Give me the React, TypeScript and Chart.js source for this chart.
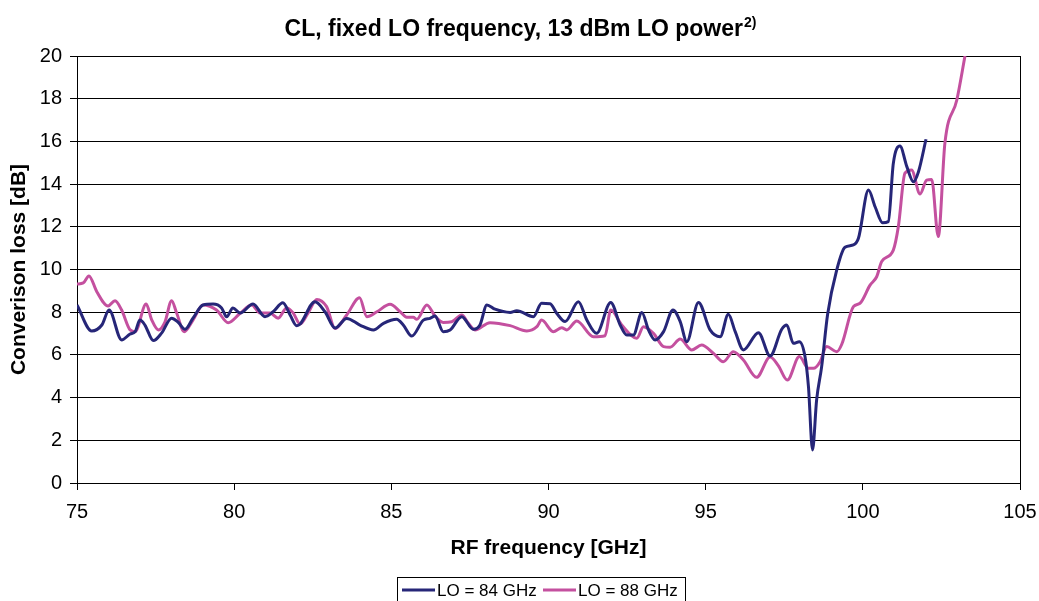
import React, { useEffect, useRef } from "react";
import { Chart, registerables } from "chart.js";

Chart.register(...registerables);

const FONT = '"Liberation Sans", Arial, Helvetica, sans-serif';

const TITLE = "CL, fixed LO frequency, 13 dBm LO power";
const TITLE_SUP = "2)";
const X_TITLE = "RF frequency [GHz]";
const Y_TITLE = "Converison loss [dB]";

const SERIES_NAMES = ["LO = 84 GHz", "LO = 88 GHz"];
const SERIES_COLORS = ["#262678", "#C4509F"];

const X_MIN = 75;
const X_MAX = 105;
const X_STEP = 5;
const Y_MIN = 0;
const Y_MAX = 20;
const Y_STEP = 2;

// LO = 84 GHz
const lo84Freq = [
  75.0, 75.47, 75.79, 76.02, 76.42, 76.69, 76.85, 77.0, 77.16, 77.43, 77.69, 78.01, 78.21, 78.44,
  78.69, 79.01, 79.33, 79.6, 79.76, 79.96, 80.19, 80.6, 80.98, 81.24, 81.55, 81.78, 81.99, 82.1,
  82.57, 82.89, 83.21, 83.58, 84.0, 84.43, 84.75, 85.17, 85.38, 85.65, 86.02, 86.23, 86.39, 86.65,
  86.87, 87.24, 87.61, 87.82, 88.04, 88.3, 88.78, 88.99, 89.52, 89.78, 90.05, 90.26, 90.53, 90.95,
  91.22, 91.53, 91.98, 92.28, 92.49, 92.7, 92.97, 93.18, 93.39, 93.66, 93.96, 94.19, 94.4, 94.77,
  95.14, 95.46, 95.72, 95.94, 96.2, 96.68, 97.05, 97.42, 97.58, 97.79, 97.98, 98.16, 98.27, 98.4,
  98.53, 98.69, 98.88, 99.17, 99.43, 99.7, 99.86, 100.18, 100.39, 100.63, 100.81, 100.97, 101.18,
  101.4, 101.61, 101.77, 102.01,
];
const lo84Loss = [
  8.34, 7.12, 7.4, 8.1, 6.7, 6.98, 7.09, 7.63, 7.4, 6.67, 7.02, 7.72, 7.54, 7.2,
  7.72, 8.34, 8.38, 8.2, 7.79, 8.2, 7.96, 8.38, 7.79, 8.02, 8.44, 7.87, 7.37, 7.45,
  8.49, 8.02, 7.26, 7.71, 7.4, 7.17, 7.48, 7.67, 7.4, 6.88, 7.63, 7.71, 7.82, 7.09,
  7.17, 7.79, 7.2, 7.4, 8.34, 8.14, 7.99, 8.07, 7.79, 8.42, 8.4, 7.95, 7.56, 8.49,
  7.63, 7.01, 8.46, 7.4, 6.93, 6.93, 7.99, 7.17, 6.7, 7.09, 8.1, 7.56, 6.62, 8.46,
  7.17, 6.85, 7.9, 7.09, 6.23, 7.04, 5.95, 7.2, 7.4, 6.54, 6.62, 5.92, 4.51, 1.55,
  3.89, 5.45, 7.9, 9.98, 11.04, 11.15, 11.46, 13.72, 12.94, 12.19, 12.24, 14.97, 15.78,
  14.82, 14.11, 14.58, 16.1,
];

// LO = 88 GHz
const lo88Freq = [
  75.0, 75.2, 75.38, 75.63, 75.99, 76.21, 76.42, 76.69, 76.85, 77.2, 77.38, 77.59, 77.8, 78.01,
  78.17, 78.41, 78.69, 79.01, 79.44, 79.81, 80.19, 80.56, 80.82, 81.14, 81.4, 81.67, 81.87, 82.1,
  82.35, 82.63, 82.94, 83.21, 83.58, 83.99, 84.22, 84.54, 84.96, 85.28, 85.49, 85.7, 85.81, 86.13,
  86.39, 86.65, 86.92, 87.24, 87.45, 87.66, 88.14, 88.78, 89.31, 89.63, 89.78, 90.15, 90.42, 90.58,
  90.9, 91.43, 91.8, 91.98, 92.33, 92.81, 93.02, 93.34, 93.66, 93.87, 94.19, 94.56, 94.87, 95.25,
  95.56, 95.88, 96.2, 96.62, 97.05, 97.31, 97.6, 97.98, 98.27, 98.43, 98.64, 98.85, 99.17, 99.33,
  99.7, 99.91, 100.23, 100.44, 100.6, 100.97, 101.13, 101.34, 101.55, 101.82, 102.03, 102.19,
  102.4, 102.61, 102.99, 103.25,
];
const lo88Loss = [
  9.32, 9.37, 9.7, 8.96, 8.29, 8.54, 8.1, 7.17, 7.09, 8.38, 7.63, 7.17, 7.55, 8.54,
  7.96, 7.09, 7.63, 8.34, 8.1, 7.51, 7.95, 8.34, 7.96, 7.96, 7.72, 8.2, 7.98, 7.45,
  7.96, 8.6, 8.26, 7.24, 7.87, 8.68, 7.79, 8.02, 8.37, 8.02, 7.76, 7.76, 7.67, 8.34,
  7.82, 7.52, 7.55, 7.87, 7.48, 7.17, 7.51, 7.37, 7.12, 7.32, 7.63, 7.09, 7.27, 7.17,
  7.59, 6.85, 6.9, 8.1, 7.4, 6.78, 7.32, 7.01, 6.39, 6.36, 6.74, 6.23, 6.46, 6.07,
  5.68, 6.15, 5.76, 4.95, 5.9, 5.5, 4.82, 5.92, 5.37, 5.37, 5.68, 6.39, 6.15, 6.5,
  8.26, 8.42, 9.27, 9.66, 10.37, 10.91, 12.01, 14.51, 14.66, 13.54, 14.19, 14.22,
  11.54, 15.91, 17.94, 20.0,
];

const toPoints = (xs: number[], ys: number[]) => xs.map((x, i) => ({ x, y: ys[i] }));

const decoPlugin = {
  id: "deco",
  afterDraw(chart: any) {
    const { ctx, chartArea } = chart;
    ctx.save();
    // right border of plot area
    ctx.strokeStyle = "#000";
    ctx.lineWidth = 1;
    const rx = Math.round(chartArea.right) + 0.5;
    ctx.beginPath();
    ctx.moveTo(rx, chartArea.top);
    ctx.lineTo(rx, chartArea.bottom);
    ctx.stroke();

    ctx.fillStyle = "#000";
    // chart title with superscript
    ctx.textAlign = "left";
    ctx.textBaseline = "alphabetic";
    ctx.font = `bold 23px ${FONT}`;
    const w1 = ctx.measureText(TITLE).width;
    ctx.font = `bold 14px ${FONT}`;
    const w2 = ctx.measureText(TITLE_SUP).width;
    const start = 520 - (w1 + w2) / 2;
    ctx.font = `bold 23px ${FONT}`;
    ctx.fillText(TITLE, start, 36);
    ctx.font = `bold 14px ${FONT}`;
    ctx.fillText(TITLE_SUP, start + w1 + 1, 27);

    // axis titles
    ctx.font = `bold 21px ${FONT}`;
    ctx.textAlign = "center";
    ctx.textBaseline = "middle";
    ctx.fillText(X_TITLE, (chartArea.left + chartArea.right) / 2, 548);
    ctx.save();
    ctx.translate(19, (chartArea.top + chartArea.bottom) / 2);
    ctx.rotate(-Math.PI / 2);
    ctx.fillText(Y_TITLE, 0, 0);
    ctx.restore();

    // legend
    ctx.strokeStyle = "#000";
    ctx.lineWidth = 1;
    ctx.strokeRect(397.5, 577.5, 288, 30);
    const items = [
      { x: 402, name: SERIES_NAMES[0], color: SERIES_COLORS[0] },
      { x: 543, name: SERIES_NAMES[1], color: SERIES_COLORS[1] },
    ];
    ctx.font = `17px ${FONT}`;
    ctx.textAlign = "left";
    ctx.textBaseline = "middle";
    for (const it of items) {
      ctx.strokeStyle = it.color;
      ctx.lineWidth = 3;
      ctx.beginPath();
      ctx.moveTo(it.x, 590);
      ctx.lineTo(it.x + 33, 590);
      ctx.stroke();
      ctx.fillStyle = "#000";
      ctx.fillText(it.name, it.x + 35, 591);
    }
    ctx.restore();
  },
};

export default function App() {
  const canvasRef = useRef<HTMLCanvasElement | null>(null);

  useEffect(() => {
    if (!canvasRef.current) return;
    const chart = new Chart(canvasRef.current, {
      type: "line",
      data: {
        datasets: [
          {
            label: SERIES_NAMES[0],
            data: toPoints(lo84Freq, lo84Loss),
            borderColor: SERIES_COLORS[0],
            borderWidth: 3,
            pointRadius: 0,
            cubicInterpolationMode: "monotone",
            fill: false,
          },
          {
            label: SERIES_NAMES[1],
            data: toPoints(lo88Freq, lo88Loss),
            borderColor: SERIES_COLORS[1],
            borderWidth: 3,
            pointRadius: 0,
            cubicInterpolationMode: "monotone",
            fill: false,
          },
        ],
      },
      options: {
        responsive: false,
        animation: false,
        devicePixelRatio: 1,
        layout: { padding: { top: 56, right: 19, left: 0, bottom: 0 } },
        plugins: {
          legend: { display: false },
          title: { display: false },
          tooltip: { enabled: false },
        },
        scales: {
          x: {
            type: "linear",
            min: X_MIN,
            max: X_MAX,
            ticks: {
              stepSize: X_STEP,
              color: "#000",
              font: { family: FONT, size: 20 },
              padding: 10,
              maxRotation: 0,
            },
            grid: {
              drawOnChartArea: false,
              drawTicks: true,
              tickLength: 7,
              color: "#000",
              lineWidth: 1,
            },
            border: { display: true, color: "#000", width: 1 },
            afterFit(scale: any) {
              scale.height = 118;
              scale.paddingLeft = 0;
              scale.paddingRight = 0;
            },
          },
          y: {
            type: "linear",
            min: Y_MIN,
            max: Y_MAX,
            ticks: {
              stepSize: Y_STEP,
              color: "#000",
              font: { family: FONT, size: 20 },
              padding: 8,
            },
            grid: {
              drawOnChartArea: true,
              drawTicks: true,
              tickLength: 7,
              color: "#000",
              lineWidth: 1,
            },
            border: { display: true, color: "#000", width: 1 },
            afterFit(scale: any) {
              scale.width = 77;
              scale.paddingTop = 0;
              scale.paddingBottom = 0;
            },
          },
        },
      },
      plugins: [decoPlugin],
    });
    return () => chart.destroy();
  }, []);

  return (
    <div style={{ position: "absolute", left: 0, top: 0, width: 1039, height: 601, background: "#fff" }}>
      <canvas ref={canvasRef} width={1039} height={601} style={{ display: "block" }} />
    </div>
  );
}
